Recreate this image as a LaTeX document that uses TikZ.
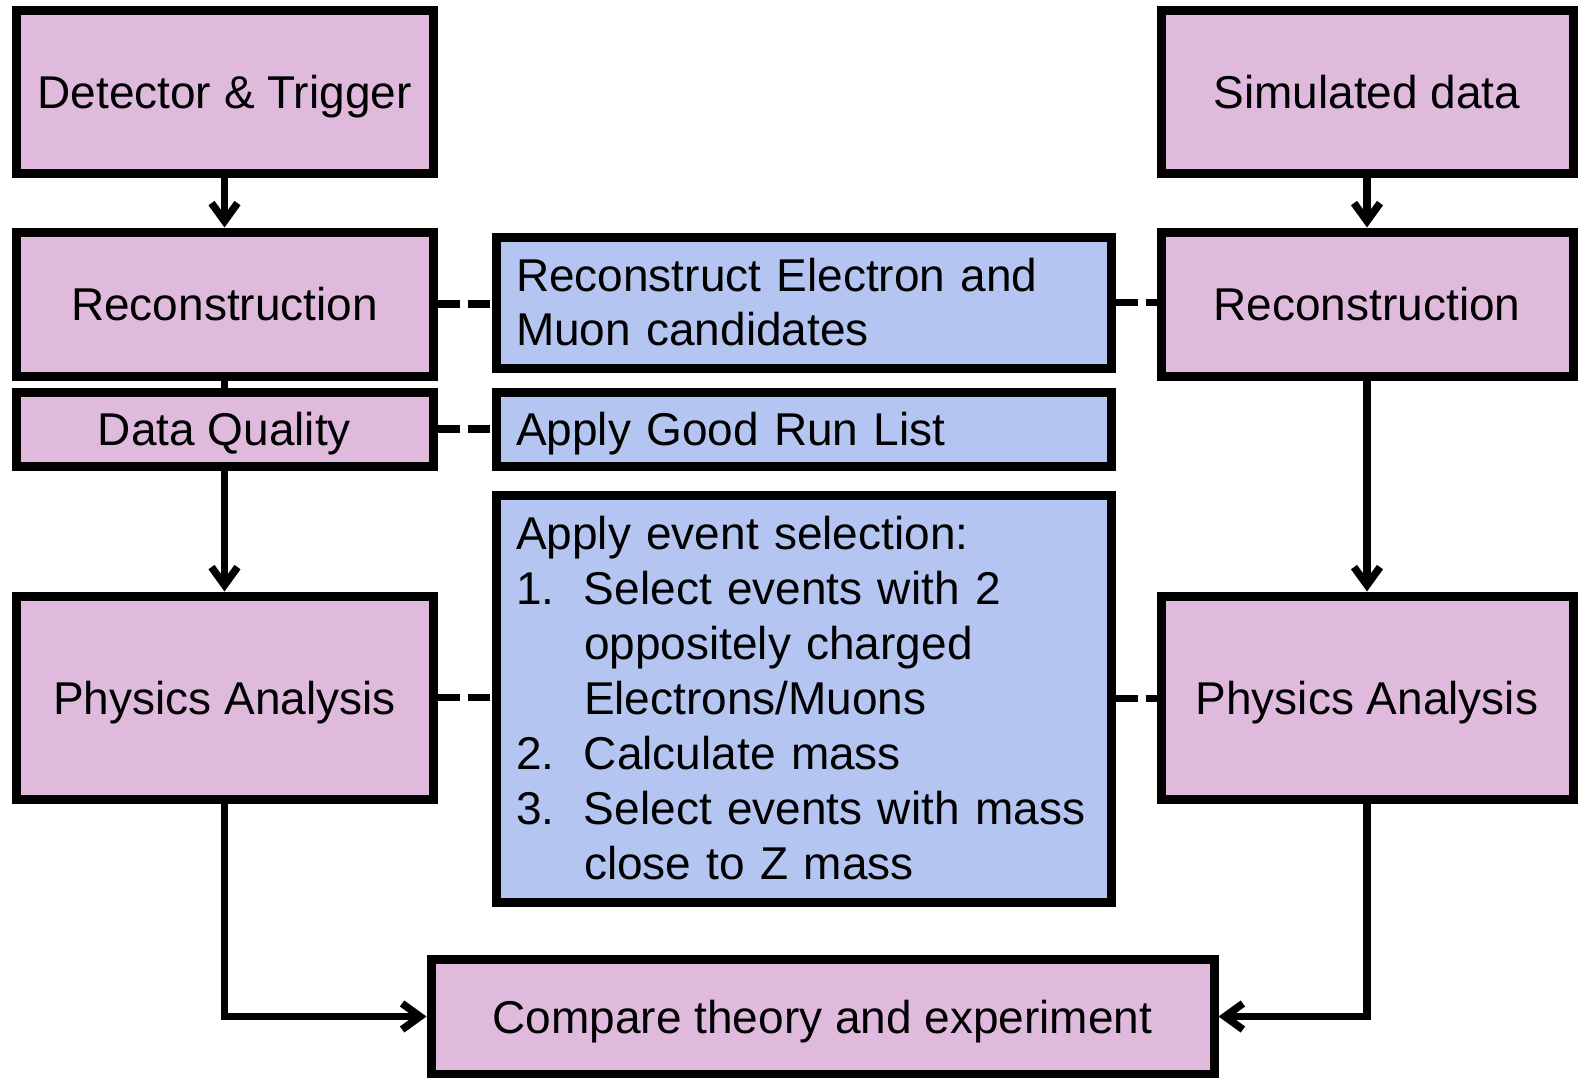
\documentclass[tikz,border=0pt]{standalone}
\usepackage{fontspec}
\setmainfont{Liberation Sans}
\usetikzlibrary{arrows.meta,shadows}
\definecolor{pinkfill}{RGB}{223,186,221}
\definecolor{bluefill}{RGB}{180,197,241}
\begin{document}
\begin{tikzpicture}[x=1pt,y=-1pt,
  boxbase/.style={draw=black, line width=9pt, rectangle, inner sep=0pt,
    font=\fontsize{46}{54}\selectfont,
    drop shadow={shadow xshift=3pt, shadow yshift=-3pt, fill=black, opacity=0.25}},
  pinkbox/.style={boxbase, fill=pinkfill, align=center, text height=33pt, text depth=0pt},
  bluebox/.style={boxbase, fill=bluefill, align=left, inner xsep=20pt, text width=575pt},
  conn/.style={line width=7.5pt},
  arr/.style={conn, -{Straight Barb[length=18pt,width=26pt]}},
  dashlink/.style={line width=7.5pt, dash pattern=on 22pt off 8pt}
]
\useasboundingbox (0,0) rectangle (1579,1078);

% left column
\node[pinkbox, minimum width=417pt, minimum height=163pt] (det) at (224.5,92.5) {Detector \& Trigger};
\node[pinkbox, minimum width=417pt, minimum height=144pt] (recL) at (224.5,304) {Reconstruction};
\node[pinkbox, minimum width=417pt, minimum height=74pt] (dq) at (224.5,429) {Data Quality};
\node[pinkbox, minimum width=417pt, minimum height=203pt] (physL) at (224.5,697.5) {Physics Analysis};

% right column
\node[pinkbox, minimum width=412pt, minimum height=163pt] (sim) at (1367,92.5) {Simulated data};
\node[pinkbox, minimum width=412pt, minimum height=144pt] (recR) at (1367,304) {Reconstruction};
\node[pinkbox, minimum width=412pt, minimum height=203pt] (physR) at (1367,697.5) {Physics Analysis};

% middle column
\node[bluebox, minimum height=131pt] (b1) at (803.5,302.5) {Reconstruct Electron and\\Muon candidates};
\node[bluebox, minimum height=74pt, text height=33pt, text depth=0pt] (b2) at (803.5,429) {Apply Good Run List};
\node[bluebox, minimum height=407pt, font=\fontsize{46}{55}\selectfont] (b3) at (803.5,698.5) {Apply event selection:\\
\makebox[68pt][l]{1.}Select events with 2\\
\hspace*{68pt}oppositely charged\\
\hspace*{68pt}Electrons/Muons\\
\makebox[68pt][l]{2.}Calculate mass\\
\makebox[68pt][l]{3.}Select events with mass\\
\hspace*{68pt}close to Z mass};

% bottom
\node[pinkbox, minimum width=783pt, minimum height=115pt] (cmp) at (822.5,1016.5) {Compare theory and experiment};

% connectors
\draw[arr] (det) -- (recL);
\draw[conn] (recL) -- (dq);
\draw[arr] (dq) -- (physL);
\draw[arr] (sim) -- (recR);
\draw[arr] (recR) -- (physR);
\draw[arr] (physL.south) |- (cmp.west);
\draw[arr] (physR.south) |- (cmp.east);

% dashed links
\draw[dashlink] (recL.east) -- (recL.east -| b1.west);
\draw[dashlink] (dq.east) -- (b2.west);
\draw[dashlink] (physL.east) -- (physL.east -| b3.west);
\draw[dashlink] (b1.east) -- (b1.east -| recR.west);
\draw[dashlink] (b3.east) -- (b3.east -| physR.west);
\end{tikzpicture}
\end{document}
